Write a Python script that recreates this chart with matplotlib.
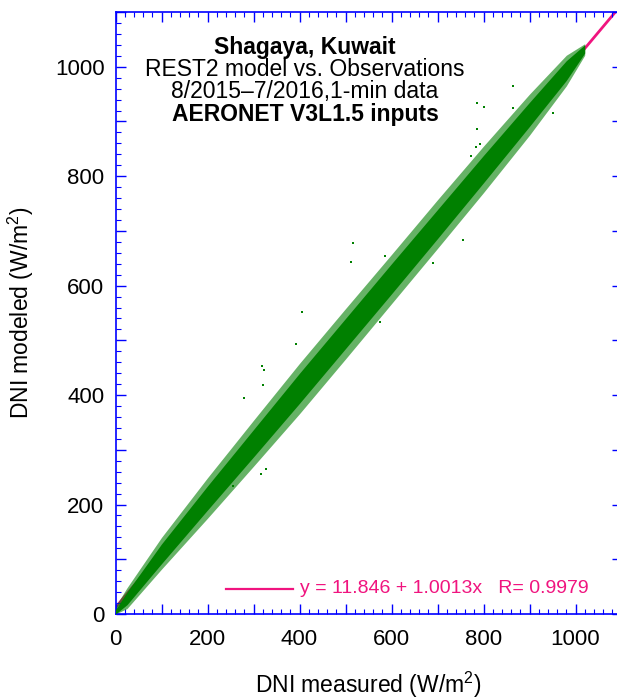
import numpy as np
import matplotlib
matplotlib.use("Agg")
import matplotlib.pyplot as plt
from matplotlib.ticker import MultipleLocator, FuncFormatter

plt.rcParams['font.family'] = ['Liberation Sans', 'DejaVu Sans']
plt.rcParams['mathtext.fontset'] = 'custom'
plt.rcParams['mathtext.rm'] = 'Liberation Sans'
plt.rcParams['mathtext.it'] = 'Liberation Sans'

# ---- data ----
# DNI measured sample positions along the point cloud (W/m2)
cloud_x = [0, 25, 100, 200, 300, 400, 500, 600, 700, 800, 900, 980, 1020]
# dense core of the cloud (DNI modeled, lower / upper edge)
core_lo = [0, 17, 92, 190, 287, 385, 485, 585, 686, 788, 891, 975, 1025]
core_hi = [8, 40, 128, 234, 337, 440, 540, 640, 739, 838, 935, 1011, 1040]
# sparse fringe of the cloud
halo_lo = [0, 10, 82, 175, 270, 366, 466, 567, 668, 770, 875, 965, 1021]
halo_hi = [14, 48, 140, 249, 354, 458, 558, 657, 757, 855, 950, 1021, 1042]
# isolated points away from the cloud
out_x = [319, 323, 321, 279, 405, 393, 255, 327, 316, 517, 513, 586, 756, 691, 575,
         785, 801, 772, 786, 865, 952, 792, 865, 784]
out_y = [453, 446, 419, 395, 552, 494, 234, 265, 256, 678, 644, 655, 684, 641, 534,
         934, 926, 837, 886, 924, 915, 859, 965, 854]

fit_a = 11.846
fit_b = 1.0013
fit_r = 0.9979
fit_x = [0, 1100]

title_lines = ["Shagaya, Kuwait", "REST2 model vs. Observations",
               "8/2015\u20137/2016,1-min data", "AERONET V3L1.5 inputs"]
title_bold = [True, False, False, True]

GREEN = '#008000'
PINK = '#f0147f'
BLUE = '#0000ff'

fig = plt.figure(figsize=(6.17, 6.99), dpi=100)
ax = fig.add_axes([115.5 / 617, (699 - 614) / 699, 506 / 617, 602 / 699])
ax.set_xlim(0, 1100)
ax.set_ylim(0, 1100)

# fit line (under the points)
fy = [fit_a + fit_b * v for v in fit_x]
ax.plot(fit_x, fy, color=PINK, lw=2.0, zorder=1, solid_capstyle='butt')

ax.fill_between(cloud_x, halo_lo, halo_hi, color=GREEN, alpha=0.6, lw=0, zorder=2)
ax.fill_between(cloud_x, core_lo, core_hi, color=GREEN, alpha=1.0, lw=0, zorder=3)
ax.scatter(out_x, out_y, s=4, marker='s', color=GREEN, linewidths=0, zorder=4)

# legend-like annotation
ax.plot([240, 386], [45.7, 45.7], color=PINK, lw=1.6, zorder=5)
ax.text(401, 45.7, "y = %.3f + %.4fx   R= %.4f" % (fit_a, fit_b, fit_r),
        color=PINK, fontsize=14, ha='left', va='center', zorder=5)

# title block
ty = [1036, 995, 954, 912]
for s, b, yy in zip(title_lines, title_bold, ty):
    ax.text(412, yy, s, fontsize=16.5, fontweight='bold' if b else 'normal',
            ha='center', va='center', color='black', zorder=6)

# axes styling
for sp in ax.spines.values():
    sp.set_color(BLUE)
    sp.set_linewidth(1.2)
ax.xaxis.set_major_locator(MultipleLocator(100))
ax.yaxis.set_major_locator(MultipleLocator(100))
ax.xaxis.set_minor_locator(MultipleLocator(20))
ax.yaxis.set_minor_locator(MultipleLocator(20))
lab = FuncFormatter(lambda v, p: "%d" % v if int(round(v)) % 200 == 0 else "")
ax.xaxis.set_major_formatter(lab)
ax.yaxis.set_major_formatter(lab)
ax.tick_params(which='both', direction='in', top=True, right=True, colors=BLUE)
ax.tick_params(which='major', length=7.5, width=1.0, labelsize=16, labelcolor='black')
ax.tick_params(which='minor', length=3.5, width=0.8)
ax.tick_params(axis='x', which='major', pad=11)
ax.tick_params(axis='y', which='major', pad=8)

ax.set_xlabel("DNI measured (W/m$^2$)", fontsize=16.5)
ax.set_ylabel("DNI modeled (W/m$^2$)", fontsize=16.5)
ax.xaxis.set_label_coords(0.5, -0.092)
ax.yaxis.set_label_coords(-0.158, 0.5)

fig.savefig("out.png", dpi=100)
